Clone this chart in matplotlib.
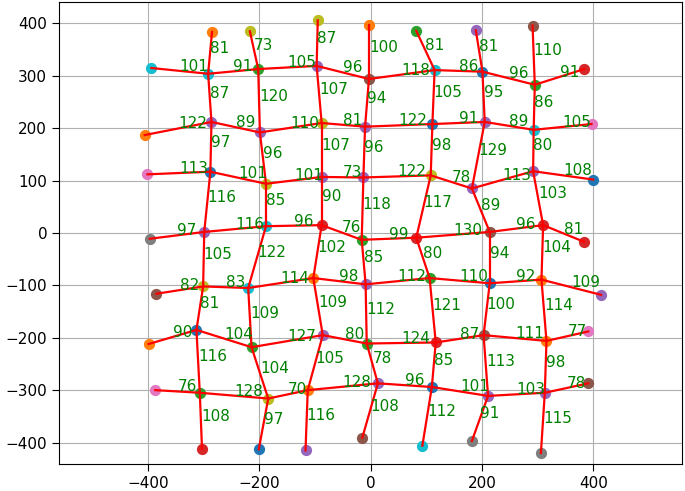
import numpy as np
from matplotlib import pyplot as plt

# inner 7x7 grid of points (rows top to bottom, cols left to right)
grid_x = [
    [-292, -202, -97, -3, 115, 201, 295],
    [-286, -199, -88, -10, 111, 205, 293],
    [-288, -188, -88, -13, 108, 182, 292],
    [-299, -188, -88, -16, 82, 214, 310],
    [-301, -220, -103, -9, 106, 214, 307],
    [-313, -214, -86, -7, 117, 203, 316],
    [-307, -184, -113, 13, 110, 211, 313],
]
grid_y = [
    [304, 313, 319, 294, 311, 308, 283],
    [212, 192, 210, 203, 208, 212, 197],
    [117, 94, 107, 106, 110, 85, 118],
    [2, 13, 15, -13, -9, 2, 15],
    [-102, -105, -86, -98, -86, -96, -89],
    [-185, -218, -195, -211, -209, -195, -206],
    [-305, -316, -300, -287, -294, -311, -305],
]

# border points
left_x = [-394, -406, -401, -397, -385, -399, -387]
left_y = [315, 187, 112, -11, -116, -212, -300]
right_x = [384, 397, 400, 384, 414, 391, 391]
right_y = [313, 208, 102, -17, -118, -188, -287]
top_x = [-285, -217, -95, -3, 82, 189, 291]
top_y = [384, 385, 406, 398, 386, 387, 396]
bottom_x = [-303, -201, -117, -15, 93, 182, 306]
bottom_y = [-412, -413, -415, -391, -406, -397, -420]

# distance labels, horizontal links per row (left border -> right border)
h_labels = [
    [101, 91, 105, 96, 118, 86, 96, 91],
    [122, 89, 110, 81, 122, 91, 89, 105],
    [113, 101, 101, 73, 122, 78, 113, 108],
    [97, 116, 96, 76, 99, 130, 96, 81],
    [82, 83, 114, 98, 112, 110, 92, 109],
    [90, 104, 127, 80, 124, 87, 111, 77],
    [76, 128, 70, 128, 96, 101, 103, 78],
]
# vertical links per column (top border -> bottom border)
v_labels = [
    [81, 87, 97, 116, 105, 81, 116, 108],
    [73, 120, 96, 85, 122, 109, 104, 97],
    [87, 107, 107, 90, 102, 109, 105, 116],
    [100, 94, 96, 118, 85, 112, 78, 108],
    [81, 105, 98, 117, 80, 121, 85, 112],
    [81, 95, 129, 89, 94, 100, 113, 91],
    [110, 86, 80, 103, 104, 114, 98, 115],
]

# colour index (tab10) of each point
grid_c = [
    [9, 2, 4, 5, 9, 0, 2],
    [4, 4, 8, 4, 0, 4, 9],
    [0, 8, 4, 4, 8, 4, 4],
    [4, 9, 3, 2, 3, 5, 3],
    [8, 9, 1, 4, 2, 0, 1],
    [0, 2, 4, 2, 3, 5, 1],
    [2, 8, 1, 4, 0, 4, 4],
]
left_c = [9, 1, 6, 7, 5, 1, 6]
right_c = [3, 6, 0, 3, 4, 6, 5]
top_c = [1, 8, 8, 1, 2, 4, 5]
bottom_c = [3, 0, 4, 5, 9, 7, 7]

plt.rcParams['font.size'] = 11
fig = plt.figure(figsize=(6.85, 4.91), dpi=100)
ax = fig.add_axes([59 / 685, 27 / 491, 622.7 / 685, 462 / 491])

gx = np.array(grid_x)
gy = np.array(grid_y)
cols = plt.rcParams['axes.prop_cycle'].by_key()['color']

def dot(x, y, c):
    ax.scatter(x, y, color=cols[c], s=50, zorder=2)

for r in range(7):
    for c in range(7):
        dot(gx[r, c], gy[r, c], grid_c[r][c])
    dot(left_x[r], left_y[r], left_c[r])
    dot(right_x[r], right_y[r], right_c[r])
for c in range(7):
    dot(top_x[c], top_y[c], top_c[c])
    dot(bottom_x[c], bottom_y[c], bottom_c[c])

def link(x0, y0, x1, y1, lab):
    ax.plot([x0, x1], [y0, y1], color='red', lw=1.6, zorder=3)
    ax.text((x0 + x1) / 2, (y0 + y1) / 2, str(lab), color='green', zorder=4)

# horizontal chains
for r in range(7):
    xs = [left_x[r]] + list(gx[r]) + [right_x[r]]
    ys = [left_y[r]] + list(gy[r]) + [right_y[r]]
    for i in range(8):
        link(xs[i], ys[i], xs[i + 1], ys[i + 1], h_labels[r][i])

# vertical chains
for c in range(7):
    xs = [top_x[c]] + list(gx[:, c]) + [bottom_x[c]]
    ys = [top_y[c]] + list(gy[:, c]) + [bottom_y[c]]
    for i in range(8):
        link(xs[i], ys[i], xs[i + 1], ys[i + 1], v_labels[c][i])

ax.set_xlim(-560, 559)
ax.set_ylim(-441, 441)
ax.set_xticks([-400, -200, 0, 200, 400])
ax.set_yticks([-400, -300, -200, -100, 0, 100, 200, 300, 400])
ax.tick_params(length=5)
ax.grid(True)
ax.set_axisbelow(True)

plt.savefig("out.png")
